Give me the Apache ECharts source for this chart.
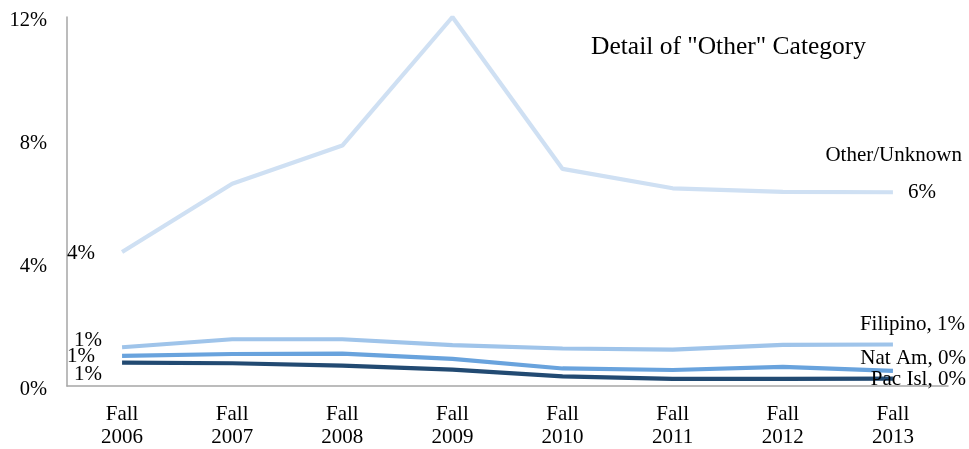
<!DOCTYPE html>
<html>
<head>
<meta charset="utf-8">
<script src="https://cdn.jsdelivr.net/npm/echarts@6/dist/echarts.min.js"></script>
<style>
  html, body { margin: 0; padding: 0; background: #fff; }
  #chart { width: 969px; height: 449px; }
</style>
</head>
<body>
<div id="chart"></div>
<script>
// Share of enrollment in the "Other" sub-groups, percent
const categories = ['Fall\n2006', 'Fall\n2007', 'Fall\n2008', 'Fall\n2009', 'Fall\n2010', 'Fall\n2011', 'Fall\n2012', 'Fall\n2013'];
const otherUnknown = [4.36, 6.58, 7.82, 12.0, 7.06, 6.43, 6.31, 6.30];
const filipino     = [1.26, 1.52, 1.52, 1.33, 1.22, 1.18, 1.34, 1.35];
const natAm        = [0.98, 1.04, 1.05, 0.88, 0.57, 0.52, 0.62, 0.49];
const pacIsl       = [0.76, 0.74, 0.66, 0.53, 0.31, 0.23, 0.23, 0.24];
const yTicks = [0, 4, 8, 12];

const FONT = "'Liberation Serif', 'Times New Roman', serif";
const pct = v => Math.round(v) + '%';

const seriesDefs = [
  { name: 'Other/Unknown', values: otherUnknown, color: '#cfe0f3',
    start: [-27, 2], end: { rich: true, offset: [69, -18] } },
  { name: 'Filipino', values: filipino, color: '#9fc4ea',
    start: [-20, -7], end: { offset: [72, -20] } },
  { name: 'Nat Am', values: natAm, color: '#69a3dd',
    start: [-27, 1], end: { offset: [73, -12] } },
  { name: 'Pac Isl', values: pacIsl, color: '#224a72',
    start: [-20, 12], end: { offset: [73, 1] } }
];

function buildData(def) {
  const last = def.values.length - 1;
  return def.values.map((v, i) => {
    const item = { value: v };
    if (i === 0) {
      item.label = {
        show: true, position: 'inside', align: 'right', verticalAlign: 'middle',
        offset: def.start, formatter: pct(v)
      };
    } else if (i === last) {
      if (def.end.rich) {
        item.label = {
          show: true, position: 'inside', align: 'right', verticalAlign: 'middle',
          offset: def.end.offset,
          formatter: '{n|' + def.name + '}\n{v|' + pct(v) + '}',
          rich: {
            n: { fontFamily: FONT, fontSize: 21, color: '#000', lineHeight: 37, align: 'right' },
            v: { fontFamily: FONT, fontSize: 21, color: '#000', lineHeight: 37, align: 'right', padding: [0, 26, 0, 0] }
          }
        };
      } else {
        item.label = {
          show: true, position: 'inside', align: 'right', verticalAlign: 'middle',
          offset: def.end.offset, formatter: def.name + ', ' + pct(v)
        };
      }
    }
    return item;
  });
}

const chart = echarts.init(document.getElementById('chart'), null, { renderer: 'canvas' });
chart.setOption({
  animation: false,
  backgroundColor: '#fff',
  title: {
    text: 'Detail of "Other" Category',
    left: 591, top: 32, padding: 0,
    textStyle: { fontFamily: FONT, fontSize: 25.5, fontWeight: 'normal', color: '#000', lineHeight: 30 }
  },
  grid: { left: 67, right: 21, top: 17, bottom: 62, containLabel: false },
  xAxis: {
    type: 'category',
    data: categories,
    boundaryGap: true,
    axisLine: { show: true, lineStyle: { color: '#a6a6a6', width: 1.5 } },
    axisTick: { show: false },
    axisLabel: { fontFamily: FONT, fontSize: 21, color: '#000', lineHeight: 23, margin: 17, interval: 0 },
    splitLine: { show: false }
  },
  yAxis: {
    type: 'value',
    min: yTicks[0], max: yTicks[yTicks.length - 1], interval: yTicks[1] - yTicks[0],
    axisLine: { show: true, lineStyle: { color: '#a6a6a6', width: 1.5 } },
    axisTick: { show: false },
    splitLine: { show: false },
    axisLabel: {
      fontFamily: FONT, color: '#000', margin: 20,
      formatter: v => '{t|' + v + '%}',
      rich: { t: { fontFamily: FONT, fontSize: 20.5, color: '#000', lineHeight: 24, padding: [8, 0, 0, 0] } }
    }
  },
  series: seriesDefs.map(def => ({
    name: def.name,
    type: 'line',
    data: buildData(def),
    symbol: 'circle',
    symbolSize: 1,
    showSymbol: true,
    itemStyle: { color: 'rgba(0,0,0,0)' },
    lineStyle: { color: def.color, width: 4.2 },
    label: { fontFamily: FONT, fontSize: 21, color: '#000' },
    emphasis: { disabled: true },
    z: 2
  }))
});
</script>
</body>
</html>
